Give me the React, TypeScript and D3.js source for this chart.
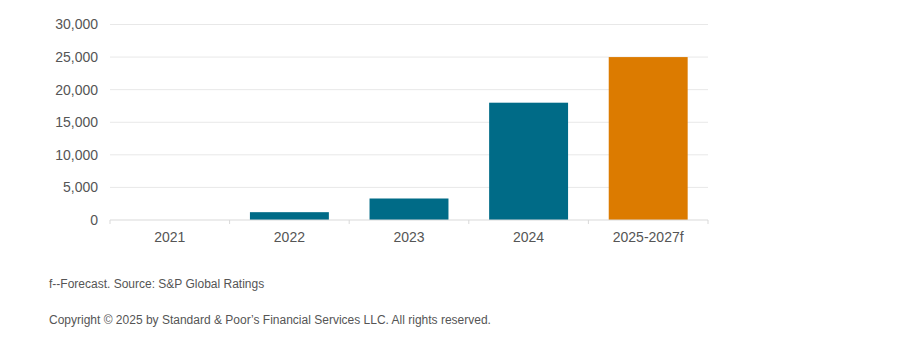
import React from "react";
import * as d3 from "d3";

const categories = ["2021", "2022", "2023", "2024", "2025-2027f"];
const values = [0, 1200, 3300, 18000, 25000];
const forecast = [false, false, false, false, true];
const yTicks = [0, 5000, 10000, 15000, 20000, 25000, 30000];
const footnote = "f--Forecast. Source: S&P Global Ratings";
const copyright = "Copyright © 2025 by Standard & Poor’s Financial Services LLC. All rights reserved.";

export default function App() {
  const W = 900, H = 340;
  const left = 110, right = 708, top = 24.5, bottom = 220;
  const x = d3.scaleBand<string>().domain(categories).range([left, right]).paddingInner(0.34).paddingOuter(0.17);
  const y = d3.scaleLinear().domain([0, 30000]).range([bottom, top]);
  const fmt = d3.format(",");
  const font = "'Liberation Sans', Arial, sans-serif";
  const step = x.step();
  return (
    <svg width={W} height={H} style={{ position: "absolute", left: 0, top: 0, background: "#fff" }} fontFamily={font}>
      {yTicks.map((t) => (
        <g key={t}>
          {t > 0 && <line x1={left} x2={right} y1={y(t)} y2={y(t)} stroke="#e8e8e8" strokeWidth={1} />}
          <text x={98} y={y(t)} dy="0.35em" textAnchor="end" fontSize={14} fill="#555">{fmt(t)}</text>
        </g>
      ))}
      {categories.map((c, i) => (
        <rect key={c} x={x(c)} width={x.bandwidth()} y={y(values[i])} height={y(0) - y(values[i])}
          fill={forecast[i] ? "#dc7b00" : "#006b87"} />
      ))}
      <line x1={left} x2={right} y1={y(0)} y2={y(0)} stroke="#d9d9d9" strokeWidth={1} />
      {categories.map((c, i) => (
        <line key={"t" + c} x1={left + i * step} x2={left + i * step} y1={y(0)} y2={y(0) + 4} stroke="#d9d9d9" />
      ))}
      <line x1={right} x2={right} y1={y(0)} y2={y(0) + 4} stroke="#d9d9d9" />
      {categories.map((c) => (
        <text key={"l" + c} x={(x(c) as number) + x.bandwidth() / 2} y={242} textAnchor="middle" fontSize={14} fill="#555">{c}</text>
      ))}
      <text x={49} y={288} fontSize={12} fill="#555">{footnote}</text>
      <text x={49} y={324} fontSize={12} fill="#555">{copyright}</text>
    </svg>
  );
}
